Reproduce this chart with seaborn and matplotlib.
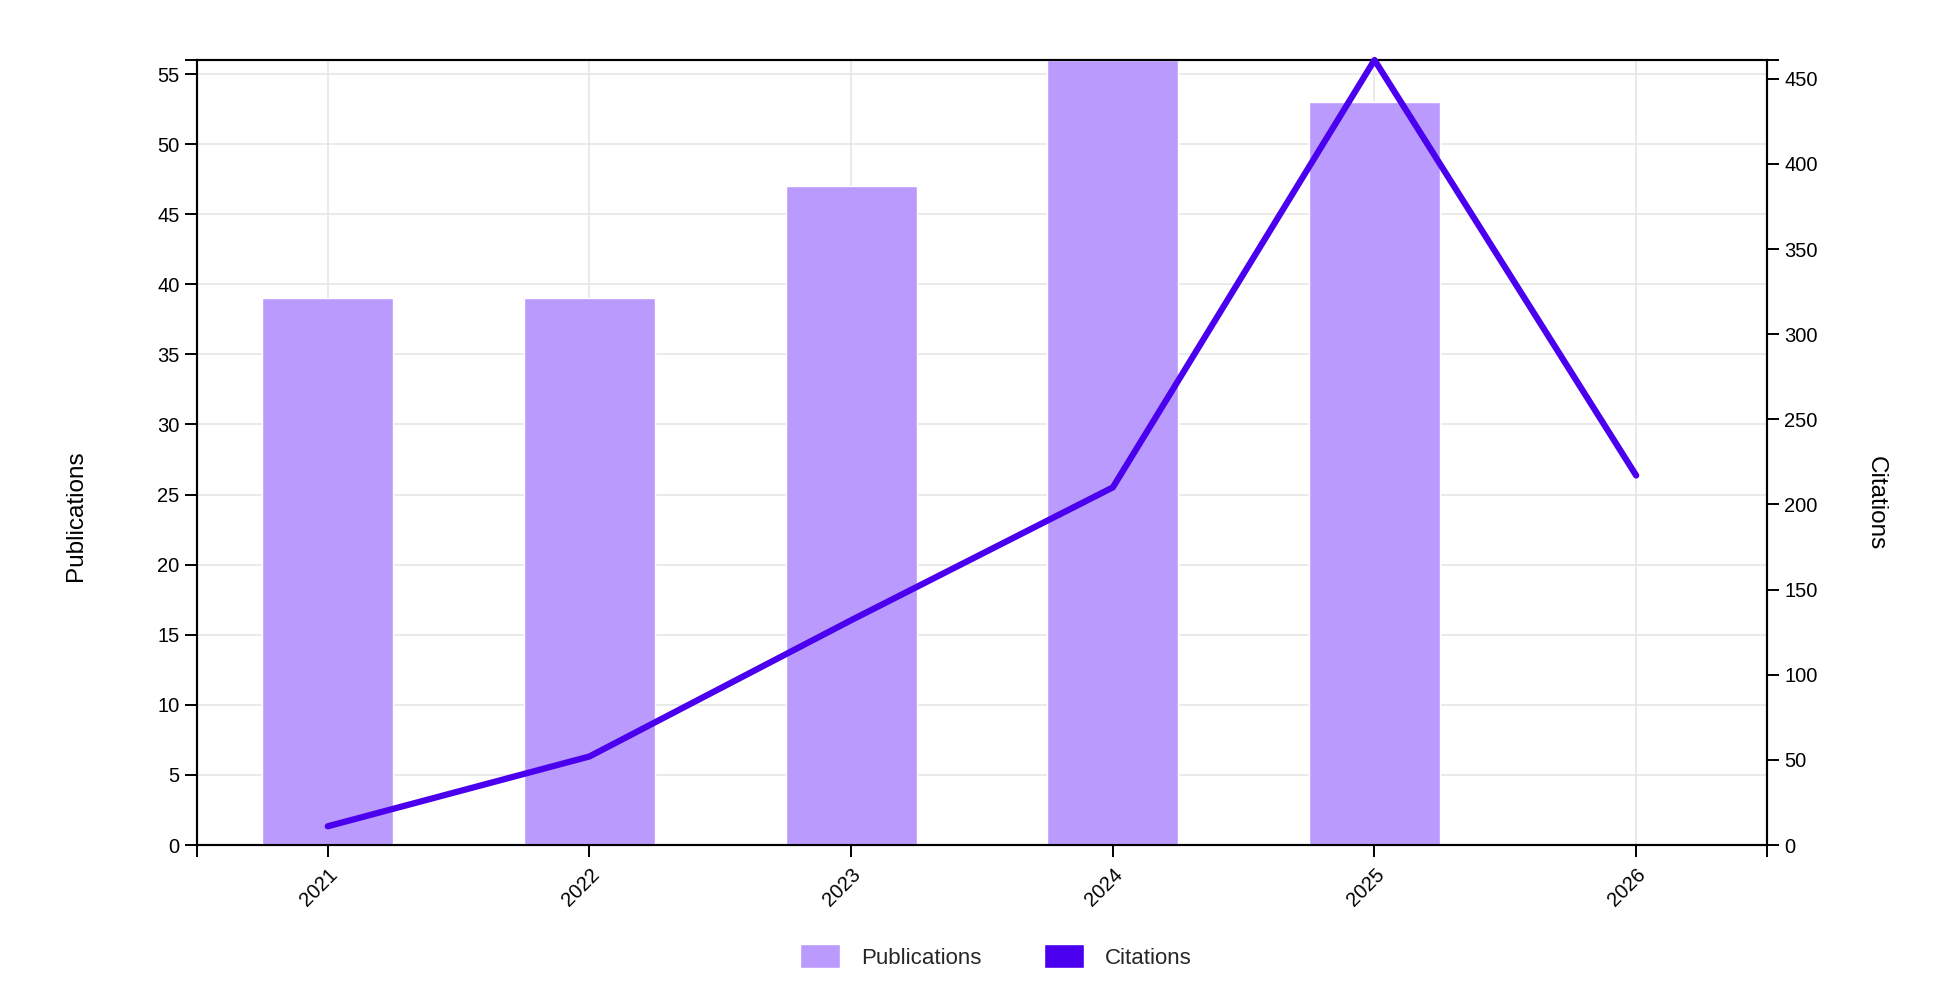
import numpy as np
import pandas as pd
import matplotlib
matplotlib.use("Agg")
import matplotlib.pyplot as plt
from matplotlib.patches import Patch
import seaborn as sns

years = ["2021", "2022", "2023", "2024", "2025", "2026"]
publications = [39, 39, 47, 56, 53, 0]
citations = [11, 52, 132, 210, 461, 217]

bar_color = "#bb9afd"
line_color = "#4a00ee"

sns.set_theme(style="white")
plt.rcParams["font.family"] = ["Liberation Sans", "DejaVu Sans"]

df = pd.DataFrame({"year": years, "publications": publications, "citations": citations})
pos = np.arange(len(years))

fig = plt.figure(figsize=(19.42, 9.82), dpi=100)
ax = fig.add_axes([0.1014, 0.1395, 0.8085, 0.7994])
ax2 = ax.twinx()

sns.barplot(data=df, x="year", y="publications", order=years, color=bar_color,
            saturation=1, width=0.5, ax=ax, zorder=3)
sns.lineplot(x=pos, y=df["citations"], ax=ax2, color=line_color, linewidth=4.5,
             clip_on=False, zorder=5)

ax.set_axisbelow(True)
ax.grid(True, which="major", axis="both", color="#e6e6e6", linewidth=1.2)

ax.set_xlim(-0.5, len(years) - 0.5)
ax.set_ylim(0, max(publications))
ax2.set_ylim(0, max(citations))
ax.set_yticks(np.arange(0, 56, 5))
ax2.set_yticks(np.arange(0, 451, 50))
ax.set_xticks(pos)
ax.set_xticklabels(years, rotation=45, ha="right", rotation_mode="anchor")

# outer ticks at axis ends
ax.set_xticks([-0.5, len(years) - 0.5], minor=True)
ax.set_yticks([max(publications)], minor=True)
ax2.set_yticks([max(citations)], minor=True)

for a in (ax, ax2):
    for s in a.spines.values():
        s.set_linewidth(1.5)
        s.set_color("black")
    a.tick_params(which="both", length=8.5, width=1.4, color="black",
                  labelsize=14.5, labelcolor="black", pad=4)
ax.tick_params(axis="x", which="both", bottom=True, pad=6)
ax.tick_params(axis="y", which="both", left=True)
ax2.tick_params(axis="y", which="both", right=True)
ax2.grid(False)
ax.spines["top"].set_zorder(2)

ax.set_xlabel("")
ax.set_ylabel("Publications", fontsize=17.5, color="black")
ax.yaxis.set_label_coords(-0.07, 0.42)
ax2.set_ylabel("Citations", fontsize=17.5, color="black", rotation=270, va="center")
ax2.yaxis.set_label_coords(1.069, 0.436)

ax.set_zorder(ax2.get_zorder() - 1)
ax.patch.set_visible(True)
ax2.patch.set_visible(False)

handles = [Patch(facecolor=bar_color, label="Publications"),
           Patch(facecolor=line_color, label="Citations")]
fig.legend(handles=handles, loc="center", bbox_to_anchor=(0.513, 0.026), ncol=2,
           frameon=False, fontsize=16, handlelength=1.8, handleheight=1.3,
           handletextpad=0.95, columnspacing=2.8)

fig.savefig("out.png", dpi=100)
